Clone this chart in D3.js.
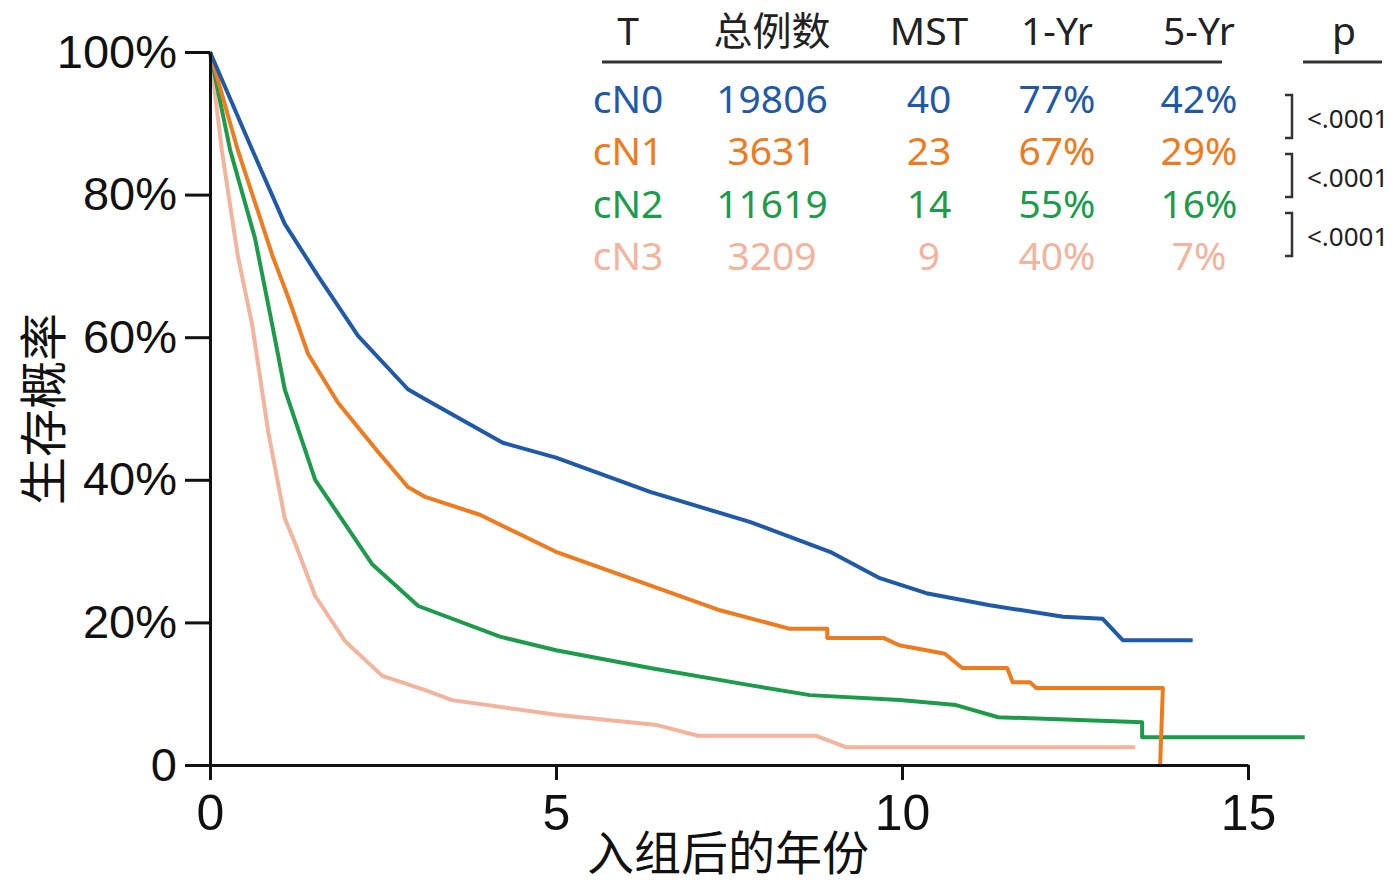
<!DOCTYPE html>
<html>
<head>
<meta charset="utf-8">
<script src="https://cdn.jsdelivr.net/npm/d3@7"></script>
<style>
  html, body { margin: 0; padding: 0; background: #fff; }
</style>
</head>
<body>
<div id="chart"></div>
<script>
// --- Data ---
const groups = ['cN0', 'cN1', 'cN2', 'cN3'];
const totals = ['19806', '3631', '11619', '3209'];
const mst = ['40', '23', '14', '9'];
const yr1 = ['77%', '67%', '55%', '40%'];
const yr5 = ['42%', '29%', '16%', '7%'];
const headers = ['T', '总例数', 'MST', '1-Yr', '5-Yr'];
const pHeader = 'p';
const pValues = ['<.0001', '<.0001', '<.0001'];

const xTicks = [0, 5, 10, 15];
const yTicks = [0, 20, 40, 60, 80, 100];
const yTickLabels = ['0', '20%', '40%', '60%', '80%', '100%'];
const xTitle = '入组后的年份';
const yTitle = '生存概率';

// [years, survival %]
const cN0 = [[0, 100], [0.61, 86.3], [1.08, 75.9], [1.56, 68.6], [2.14, 60.2], [2.86, 52.7], [3.11, 51.3],
  [4.23, 45.2], [5.0, 43.1], [6.36, 38.3], [7.8, 34.1], [8.96, 29.9], [9.68, 26.2], [10.35, 24.1],
  [11.27, 22.4], [12.33, 20.8], [12.9, 20.5], [13.19, 17.5], [14.2, 17.5]];
const cN1 = [[0, 100], [0.40, 86.3], [0.90, 71.5], [1.13, 65.6], [1.42, 57.6], [1.85, 50.8], [2.43, 43.9],
  [2.86, 39.0], [3.11, 37.6], [3.9, 35.1], [5.0, 29.9], [6.36, 25.2], [7.37, 21.7], [8.38, 19.1],
  [8.92, 19.1], [8.92, 17.8], [9.74, 17.8], [9.96, 16.8], [10.35, 16.1], [10.62, 15.6], [10.87, 13.6],
  [11.52, 13.6], [11.6, 11.6], [11.85, 11.6], [11.94, 10.8], [13.77, 10.8], [13.73, 0]];
const cN2 = [[0, 100], [0.29, 86.3], [0.65, 73.9], [0.90, 61.7], [1.08, 52.7], [1.52, 40.0], [2.34, 28.2],
  [3.01, 22.3], [4.19, 18.0], [5.0, 16.1], [6.36, 13.6], [7.8, 11.2], [8.67, 9.8], [9.97, 9.1],
  [10.78, 8.4], [11.39, 6.7], [13.47, 6.0], [13.47, 3.9], [15.82, 3.9]];
const cN3 = [[0, 100], [0.17, 86.3], [0.40, 71.5], [0.61, 61.7], [0.84, 46.8], [1.08, 34.6], [1.23, 31.1],
  [1.52, 23.7], [1.95, 17.4], [2.49, 12.5], [3.11, 10.5], [3.5, 9.1], [5.03, 7.0], [6.46, 5.6],
  [7.05, 4.1], [8.76, 4.1], [9.19, 2.5], [13.37, 2.5]];

const series = [cN0, cN1, cN2, cN3];
const colors = ['#1f5aa8', '#ee7b1e', '#1c9c4b', '#f4b39c'];

// --- Setup ---
const W = 1398, H = 887;
const svg = d3.select('#chart').append('svg')
  .attr('width', W).attr('height', H)
  .style('background', '#fff');

const x = d3.scaleLinear().domain([0, 15]).range([210, 1248]);
const y = d3.scaleLinear().domain([0, 100]).range([765, 52]);

// --- Curves (last group first so cN0 sits on top) ---
const line = d3.line().x(d => x(d[0])).y(d => y(d[1]));
for (let i = series.length - 1; i >= 0; i--) {
  svg.append('path')
    .datum(series[i])
    .attr('fill', 'none')
    .attr('stroke', colors[i])
    .attr('stroke-width', 4)
    .attr('stroke-linejoin', 'round')
    .attr('d', line);
}

// --- Axes ---
const yAxis = svg.append('g')
  .attr('transform', `translate(${x(0)},0)`)
  .call(d3.axisLeft(y).tickValues(yTicks).tickSize(25).tickSizeOuter(0).tickPadding(8)
    .tickFormat((d, i) => yTickLabels[i]));

const xAxis = svg.append('g')
  .attr('transform', `translate(0,${y(0)})`)
  .call(d3.axisBottom(x).tickValues(xTicks).tickSize(15).tickSizeOuter(0).tickPadding(14)
    .tickFormat(d3.format('d')));

[yAxis, xAxis].forEach(g => {
  g.select('.domain').attr('stroke', '#111').attr('stroke-width', 3);
  g.selectAll('.tick line').attr('stroke', '#111').attr('stroke-width', 3);
  g.selectAll('.tick text')
    .attr('fill', '#111')
    .style('font-family', '"Liberation Sans", Arial, sans-serif');
});
yAxis.selectAll('.tick text').style('font-size', '47px');
xAxis.selectAll('.tick text').style('font-size', '50px');

// --- Axis titles ---
svg.append('text')
  .attr('x', 728).attr('y', 870)
  .attr('text-anchor', 'middle')
  .attr('fill', '#111')
  .style('font-family', '"Noto Sans CJK SC", sans-serif')
  .style('font-size', '47px')
  .text(xTitle);

svg.append('text')
  .attr('transform', 'translate(40,409) rotate(-90)')
  .attr('text-anchor', 'middle')
  .attr('dominant-baseline', 'central')
  .attr('fill', '#111')
  .style('font-family', '"Noto Sans CJK SC", sans-serif')
  .style('font-size', '48px')
  .text(yTitle);

// --- Table ---
const colX = [628, 772, 929, 1057, 1199];
const tableFont = '"Noto Sans", "Noto Sans CJK SC", sans-serif';
const table = svg.append('g').style('font-family', tableFont).style('font-size', '39px');

table.selectAll('.head')
  .data(headers)
  .join('text')
  .attr('x', (d, i) => colX[i]).attr('y', 45)
  .attr('text-anchor', 'middle')
  .attr('fill', '#222')
  .style('font-family', (d, i) => i === 1 ? '"Noto Sans CJK SC", sans-serif' : null)
  .text(d => d);

table.append('text')
  .attr('x', 1344).attr('y', 45)
  .attr('text-anchor', 'middle')
  .attr('fill', '#222')
  .text(pHeader);

table.append('line').attr('x1', 602).attr('x2', 1222).attr('y1', 62).attr('y2', 62)
  .attr('stroke', '#333').attr('stroke-width', 3);
table.append('line').attr('x1', 1303).attr('x2', 1382).attr('y1', 62).attr('y2', 62)
  .attr('stroke', '#333').attr('stroke-width', 3);

const rows = groups.map((g, i) => [g, totals[i], mst[i], yr1[i], yr5[i]]);
rows.forEach((row, r) => {
  table.selectAll(`.row${r}`)
    .data(row)
    .join('text')
    .attr('x', (d, i) => colX[i]).attr('y', 113 + r * 52.3)
    .attr('text-anchor', 'middle')
    .attr('fill', colors[r])
    .text(d => d);
});

// --- p-value brackets ---
pValues.forEach((p, i) => {
  const top = 95 + i * 59, bottom = top + 43;
  svg.append('path')
    .attr('d', `M1285,${top}H1292V${bottom}H1285`)
    .attr('fill', 'none')
    .attr('stroke', '#333')
    .attr('stroke-width', 2.5);
  svg.append('text')
    .attr('x', 1307).attr('y', top + 33)
    .attr('fill', '#222')
    .style('font-family', tableFont)
    .style('font-size', '26px')
    .text(p);
});
</script>
</body>
</html>
